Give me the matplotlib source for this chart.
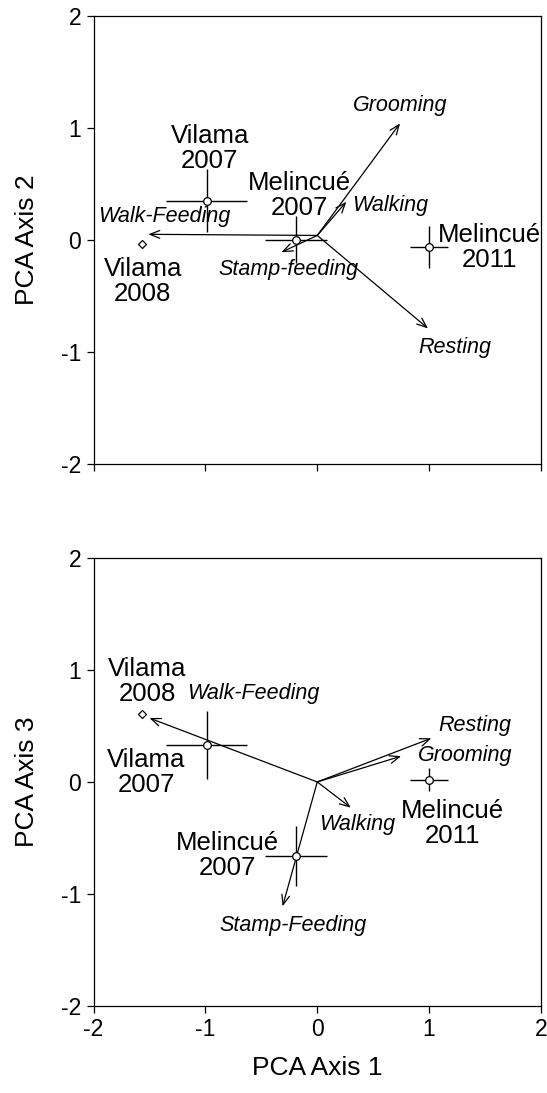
import matplotlib
matplotlib.use("Agg")
import matplotlib.pyplot as plt

plt.rcParams['font.family'] = ['Liberation Sans', 'DejaVu Sans']

# ---- Data: site scores (mean +/- error) ----
sites = ["Vilama\n2007", "Melincué\n2007", "Vilama\n2008", "Melincué\n2011"]
pc1 = [-0.99, -0.19, -1.57, 1.00]
pc1_err = [0.36, 0.28, 0.0, 0.17]
pc2 = [0.35, 0.00, -0.04, -0.065]
pc2_err = [0.28, 0.21, 0.0, 0.19]
pc3 = [0.33, -0.66, 0.61, 0.02]
pc3_err = [0.30, 0.27, 0.0, 0.10]

# ---- Data: behaviour loadings (arrows) ----
behav_top = ["Grooming", "Walking", "Walk-Feeding", "Stamp-feeding", "Resting"]
load_top_x = [0.74, 0.26, -1.51, -0.32, 0.99]
load_top_y = [1.04, 0.34, 0.05, -0.11, -0.79]
origin_top = (0.0, 0.04)

behav_bot = ["Walk-Feeding", "Resting", "Grooming", "Walking", "Stamp-Feeding"]
load_bot_x = [-1.50, 1.02, 0.75, 0.30, -0.31]
load_bot_y = [0.57, 0.39, 0.23, -0.23, -1.11]
origin_bot = (0.0, 0.0)

ticks = [-2, -1, 0, 1, 2]

# label positions (layout)
site_lab_top = [(-0.96, 0.82), (-0.16, 0.40), (-1.56, -0.37), (1.54, -0.07)]
behav_lab_top = [(0.74, 1.20), (0.31, 0.31, 'left'), (-1.37, 0.21), (-0.26, -0.26), (1.23, -0.96)]
site_lab_bot = [(-1.53, 0.08), (-0.80, -0.66), (-1.52, 0.90), (1.21, -0.37)]
behav_lab_bot = [(-0.57, 0.79), (1.41, 0.50), (1.32, 0.235), (0.36, -0.38), (-0.22, -1.28)]

fig = plt.figure(figsize=(5.47, 10.93), dpi=100)
ax1 = fig.add_axes([0.171, 0.5755, 0.818, 0.41])
ax2 = fig.add_axes([0.171, 0.0796, 0.818, 0.41])

SITE_FS = 18.5
BEH_FS = 15.5
TICK_FS = 16.5


def draw(ax, ys, yerrs, lx, ly, names, origin, site_lab, beh_lab, ylabel, xlabels):
    for i in range(len(sites)):
        if pc1_err[i] > 0:
            ax.errorbar(pc1[i], ys[i], xerr=pc1_err[i], yerr=yerrs[i], fmt='none',
                        ecolor='black', elinewidth=1.0, capsize=0, zorder=2)
            ax.plot(pc1[i], ys[i], 'o', ms=5.5, mfc='white', mec='black', mew=0.9, zorder=4)
        else:
            ax.plot(pc1[i], ys[i], 'D', ms=4.5, mfc='white', mec='black', mew=0.9, zorder=4)
        ax.text(site_lab[i][0], site_lab[i][1], sites[i], ha='center', va='center',
                fontsize=SITE_FS, linespacing=1.05)
    for j in range(len(names)):
        ax.annotate("", xy=(lx[j], ly[j]), xytext=origin,
                    arrowprops=dict(arrowstyle='->,head_length=0.7,head_width=0.28',
                                    color='black', lw=0.9, shrinkA=0, shrinkB=0), zorder=3)
        p = beh_lab[j]
        ha = p[2] if len(p) > 2 else 'center'
        ax.text(p[0], p[1], names[j], ha=ha, va='center', fontsize=BEH_FS, style='italic')
    ax.set_xlim(-2, 2)
    ax.set_ylim(-2, 2)
    ax.set_xticks(ticks)
    ax.set_yticks(ticks)
    ax.set_yticklabels([str(t) for t in ticks], fontsize=TICK_FS)
    if xlabels:
        ax.set_xticklabels([str(t) for t in ticks], fontsize=TICK_FS)
        ax.set_xlabel("PCA Axis 1", fontsize=19)
        ax.xaxis.set_label_coords(0.5, -0.138)
        ax.xaxis.label.set_va('center')
    else:
        ax.set_xticklabels([])
    ax.set_ylabel(ylabel, fontsize=19)
    ax.yaxis.set_label_coords(-0.149, 0.5)
    ax.yaxis.label.set_va('center')
    ax.tick_params(direction='out', length=5, width=0.9, top=False, right=False, pad=4)
    for s in ax.spines.values():
        s.set_linewidth(0.9)
        s.set_color('black')


draw(ax1, pc2, pc2_err, load_top_x, load_top_y, behav_top, origin_top,
     site_lab_top, behav_lab_top, "PCA Axis 2", False)
draw(ax2, pc3, pc3_err, load_bot_x, load_bot_y, behav_bot, origin_bot,
     site_lab_bot, behav_lab_bot, "PCA Axis 3", True)

fig.savefig("out.png", dpi=100)
